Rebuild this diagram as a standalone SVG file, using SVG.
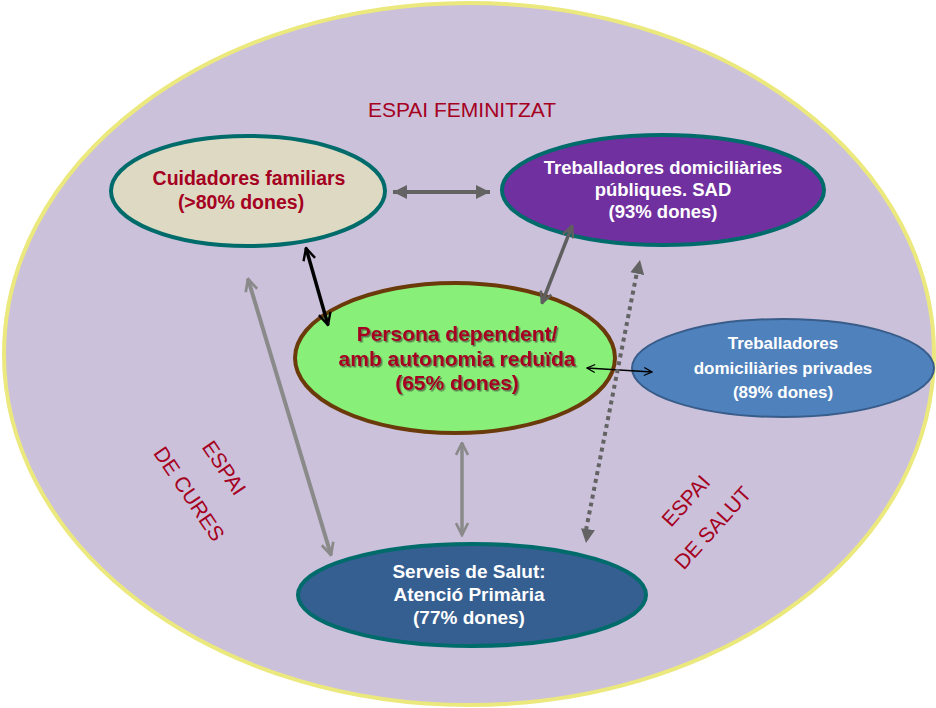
<svg xmlns="http://www.w3.org/2000/svg" width="936" height="708" viewBox="0 0 936 708">
<style>
.lbl{font-family:"Liberation Sans",Arial,sans-serif;font-weight:bold;text-anchor:middle}
.red{fill:#A50021}
.wht{fill:#FFFFFF}
.zone{font-family:"Liberation Sans",Arial,sans-serif;fill:#A50021;text-anchor:middle;font-size:21px}
.teal{stroke:#006B6B;stroke-width:4}
</style>
<defs>
<marker id="chevB" viewBox="0 0 10 10" refX="9" refY="5" markerUnits="userSpaceOnUse" markerWidth="15" markerHeight="15" orient="auto-start-reverse">
<path d="M1,1 L9,5 L1,9" fill="none" stroke="#000" stroke-width="1.6"/>
</marker>
<marker id="chevThin" viewBox="0 0 10 10" refX="9" refY="5" markerUnits="userSpaceOnUse" markerWidth="10" markerHeight="10" orient="auto-start-reverse">
<path d="M1,1 L9,5 L1,9" fill="none" stroke="#000" stroke-width="1.3"/>
</marker>
<marker id="chevG" viewBox="0 0 10 10" refX="9" refY="5" markerUnits="userSpaceOnUse" markerWidth="15" markerHeight="15" orient="auto-start-reverse">
<path d="M1,1 L9,5 L1,9" fill="none" stroke="#8A8A8A" stroke-width="1.8"/>
</marker>
<marker id="chevD" viewBox="0 0 10 10" refX="9" refY="5" markerUnits="userSpaceOnUse" markerWidth="14" markerHeight="14" orient="auto-start-reverse">
<path d="M1,1 L9,5 L1,9" fill="none" stroke="#5F5F5F" stroke-width="1.8"/>
</marker>
<marker id="triD" viewBox="0 0 10 10" refX="10" refY="5" markerUnits="userSpaceOnUse" markerWidth="14" markerHeight="15" orient="auto-start-reverse">
<path d="M0,0 L10,5 L0,10 Z" fill="#636363"/>
</marker>
<filter id="sh" x="-10%" y="-10%" width="120%" height="130%">
<feDropShadow dx="1.5" dy="1.5" stdDeviation="0.6" flood-color="#333" flood-opacity="0.6"/>
</filter>
</defs>

<g id="background">
<ellipse cx="469" cy="354" rx="465" ry="351" fill="#CCC1DA" stroke="#EBE87E" stroke-width="4"/>
</g>

<g id="zones">
<text class="zone" x="462" y="117">ESPAI FEMINITZAT</text>
<text class="zone" transform="translate(224,468) rotate(56)" y="7">ESPAI</text>
<text class="zone" transform="translate(189,494) rotate(56)" y="7">DE CURES</text>
<text class="zone" transform="translate(686,501) rotate(-48)" y="7">ESPAI</text>
<text class="zone" transform="translate(713,528) rotate(-48)" y="7">DE SALUT</text>
</g>

<g id="cuidadores">
<ellipse cx="248" cy="191" rx="137" ry="55" fill="#DDD9C3" class="teal"/>
<text class="lbl red" x="249" y="185" font-size="19.5">Cuidadores familiars</text>
<text class="lbl red" x="241" y="209" font-size="19.5">(&gt;80% dones)</text>
</g>

<g id="sad">
<ellipse cx="663" cy="190" rx="161" ry="55" fill="#7030A0" class="teal"/>
<text class="lbl wht" x="663" y="174" font-size="18.5">Treballadores domiciliàries</text>
<text class="lbl wht" x="663" y="196" font-size="18.5">públiques. SAD</text>
<text class="lbl wht" x="663" y="218" font-size="18.5">(93% dones)</text>
</g>

<g id="persona">
<ellipse cx="455" cy="358" rx="160" ry="75" fill="#88F078" stroke="#6B3A0B" stroke-width="4"/>
<g filter="url(#sh)">
<text class="lbl red" x="457" y="341" font-size="21">Persona dependent/</text>
<text class="lbl red" x="457" y="366" font-size="21">amb autonomia reduïda</text>
<text class="lbl red" x="457" y="390" font-size="21">(65% dones)</text>
</g>
</g>

<g id="privades">
<ellipse cx="783" cy="368" rx="151" ry="49" fill="#4F81BD" stroke="#385D8A" stroke-width="2"/>
<text class="lbl wht" x="783" y="349" font-size="17">Treballadores</text>
<text class="lbl wht" x="783" y="374" font-size="17">domiciliàries privades</text>
<text class="lbl wht" x="783" y="398" font-size="17">(89% dones)</text>
</g>

<g id="serveis">
<ellipse cx="472" cy="595" rx="174" ry="51" fill="#355E91" class="teal"/>
<text class="lbl wht" x="469" y="578" font-size="19">Serveis de Salut:</text>
<text class="lbl wht" x="469" y="601" font-size="19">Atenció Primària</text>
<text class="lbl wht" x="469" y="624" font-size="19">(77% dones)</text>
</g>

<g id="connectors">
<line x1="393" y1="192" x2="490" y2="192" stroke="#636363" stroke-width="4" marker-start="url(#triD)" marker-end="url(#triD)"/>
<line x1="306" y1="248" x2="328" y2="325" stroke="#000" stroke-width="3.5" marker-start="url(#chevB)" marker-end="url(#chevB)"/>
<line x1="572" y1="226" x2="542" y2="303" stroke="#5F5F5F" stroke-width="3.5" marker-start="url(#chevD)" marker-end="url(#chevD)"/>
<line x1="248" y1="279" x2="331" y2="555" stroke="#8A8A8A" stroke-width="4" marker-start="url(#chevG)" marker-end="url(#chevG)"/>
<line x1="462" y1="443" x2="462" y2="535" stroke="#8A8A8A" stroke-width="3.5" marker-start="url(#chevG)" marker-end="url(#chevG)"/>
<line x1="587" y1="368" x2="652" y2="372" stroke="#000" stroke-width="1.5" marker-start="url(#chevThin)" marker-end="url(#chevThin)"/>
<line x1="586" y1="530" x2="637" y2="272" stroke="#636363" stroke-width="4" stroke-dasharray="4 4"/>
<line x1="590" y1="515" x2="586" y2="543" stroke="none" marker-end="url(#triD)"/>
<line x1="636" y1="280" x2="640" y2="260" stroke="none" marker-end="url(#triD)"/>
</g>
</svg>
